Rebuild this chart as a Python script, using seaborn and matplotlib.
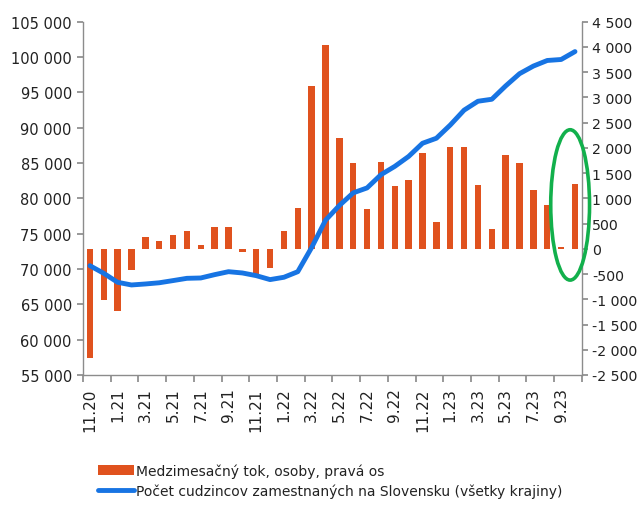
import numpy as np
import pandas as pd
import matplotlib
matplotlib.use("Agg")
import matplotlib.pyplot as plt
from matplotlib.patches import Ellipse
from matplotlib.ticker import FuncFormatter
import seaborn as sns

months = ["11.20", "12.20", "1.21", "2.21", "3.21", "4.21", "5.21", "6.21", "7.21", "8.21",
          "9.21", "10.21", "11.21", "12.21", "1.22", "2.22", "3.22", "4.22", "5.22", "6.22",
          "7.22", "8.22", "9.22", "10.22", "11.22", "12.22", "1.23", "2.23", "3.23", "4.23",
          "5.23", "6.23", "7.23", "8.23", "9.23", "10.23"]

flow = [-2165, -1017, -1240, -420, 243, 157, 269, 361, 85, 427,
        427, -66, -538, -387, 361, 807, 3221, 4034, 2204, 1693,
        787, 1712, 1240, 1371, 1896, 538, 2027, 2027, 1266, 400,
        1850, 1693, 1168, 859, 39, 1286]

foreigners = [70470, 69390, 68120, 67740, 67880, 68050, 68360, 68680, 68730, 69200,
              69620, 69440, 69060, 68500, 68830, 69620, 73040, 76900, 78990, 80780,
              81480, 83350, 84530, 85940, 87800, 88510, 90380, 92490, 93750, 94030,
              95920, 97650, 98730, 99520, 99660, 100780]

label_bar = "Medzimesačný tok, osoby, pravá os"
label_line = "Počet cudzincov zamestnaných na Slovensku (všetky krajiny)"

sns.set_theme(style="white")
plt.rcParams['font.family'] = ['DejaVu Sans']

bar_color = "#E0521E"
line_color = "#1774E3"
spine_color = "#8C8C8C"
text_color = "#222222"

fig = plt.figure(figsize=(6.43, 5.06), dpi=100)
ax = fig.add_axes([0.129, 0.257, 0.776, 0.698])
ax2 = ax.twinx()

df = pd.DataFrame({"month": months, "flow": flow, "foreigners": foreigners,
                   "pos": np.arange(len(months))})

sns.barplot(data=df, x="month", y="flow", ax=ax2, color=bar_color, width=0.46,
            saturation=1, label=label_bar, linewidth=0, edgecolor=bar_color)
sns.lineplot(data=df, x="pos", y="foreigners", ax=ax, color=line_color, linewidth=3.5,
             label=label_line)

ax.set_zorder(ax2.get_zorder() + 1)
ax.patch.set_visible(False)

fmt = FuncFormatter(lambda v, p: f"{int(v):,}".replace(",", " "))

ax.set_ylim(55000, 105000)
ax.set_yticks(np.arange(55000, 105001, 5000))
ax.yaxis.set_major_formatter(fmt)
ax2.set_ylim(-2500, 4500)
ax2.set_yticks(np.arange(-2500, 4501, 500))
ax2.yaxis.set_major_formatter(fmt)

for a in (ax, ax2):
    a.set_xlim(-0.5, len(months) - 0.5)
    a.set_xlabel("")
    a.set_ylabel("")
    for s in a.spines.values():
        s.set_color(spine_color)
        s.set_linewidth(1.0)
    a.spines["top"].set_visible(False)
    a.grid(False)
    if a.get_legend() is not None:
        a.get_legend().remove()

ax2.spines["left"].set_visible(False)
ax2.spines["bottom"].set_visible(False)
ax.spines["right"].set_visible(False)

ax.set_xticks(np.arange(-0.5, len(months), 2))
ax.set_xticklabels([])
ax.set_xticks(np.arange(0, len(months), 2), minor=True)
ax.set_xticklabels(months[::2], minor=True, rotation=90, fontsize=11)
ax.tick_params(axis="x", which="major", length=5, color=spine_color, direction="out", bottom=True)
ax.tick_params(axis="x", which="minor", length=0, pad=9, bottom=True, labelcolor=text_color)
ax2.tick_params(axis="x", which="both", bottom=False, labelbottom=False)

ax.tick_params(axis="y", length=4, color=spine_color, direction="out", labelsize=10.5,
               left=True, pad=4, labelcolor=text_color)
ax2.tick_params(axis="y", length=4, color=spine_color, direction="out", labelsize=10.2,
                right=True, pad=3.5, labelcolor=text_color)

ell = Ellipse((34.65, 870), width=2.8, height=2980, fill=False, edgecolor="#12B04C",
              linewidth=2.6, zorder=5, clip_on=False)
ax2.add_patch(ell)

h1, l1 = ax2.get_legend_handles_labels()
h2, l2 = ax.get_legend_handles_labels()
fig.legend(h1 + h2, l1 + l2, loc="upper left", bbox_to_anchor=(0.152, 0.082),
           frameon=False, fontsize=10, handlelength=2.6, handletextpad=0.15,
           labelspacing=0.4, borderaxespad=0, borderpad=0, labelcolor=text_color)

fig.savefig("out.png", dpi=100, facecolor="white")
